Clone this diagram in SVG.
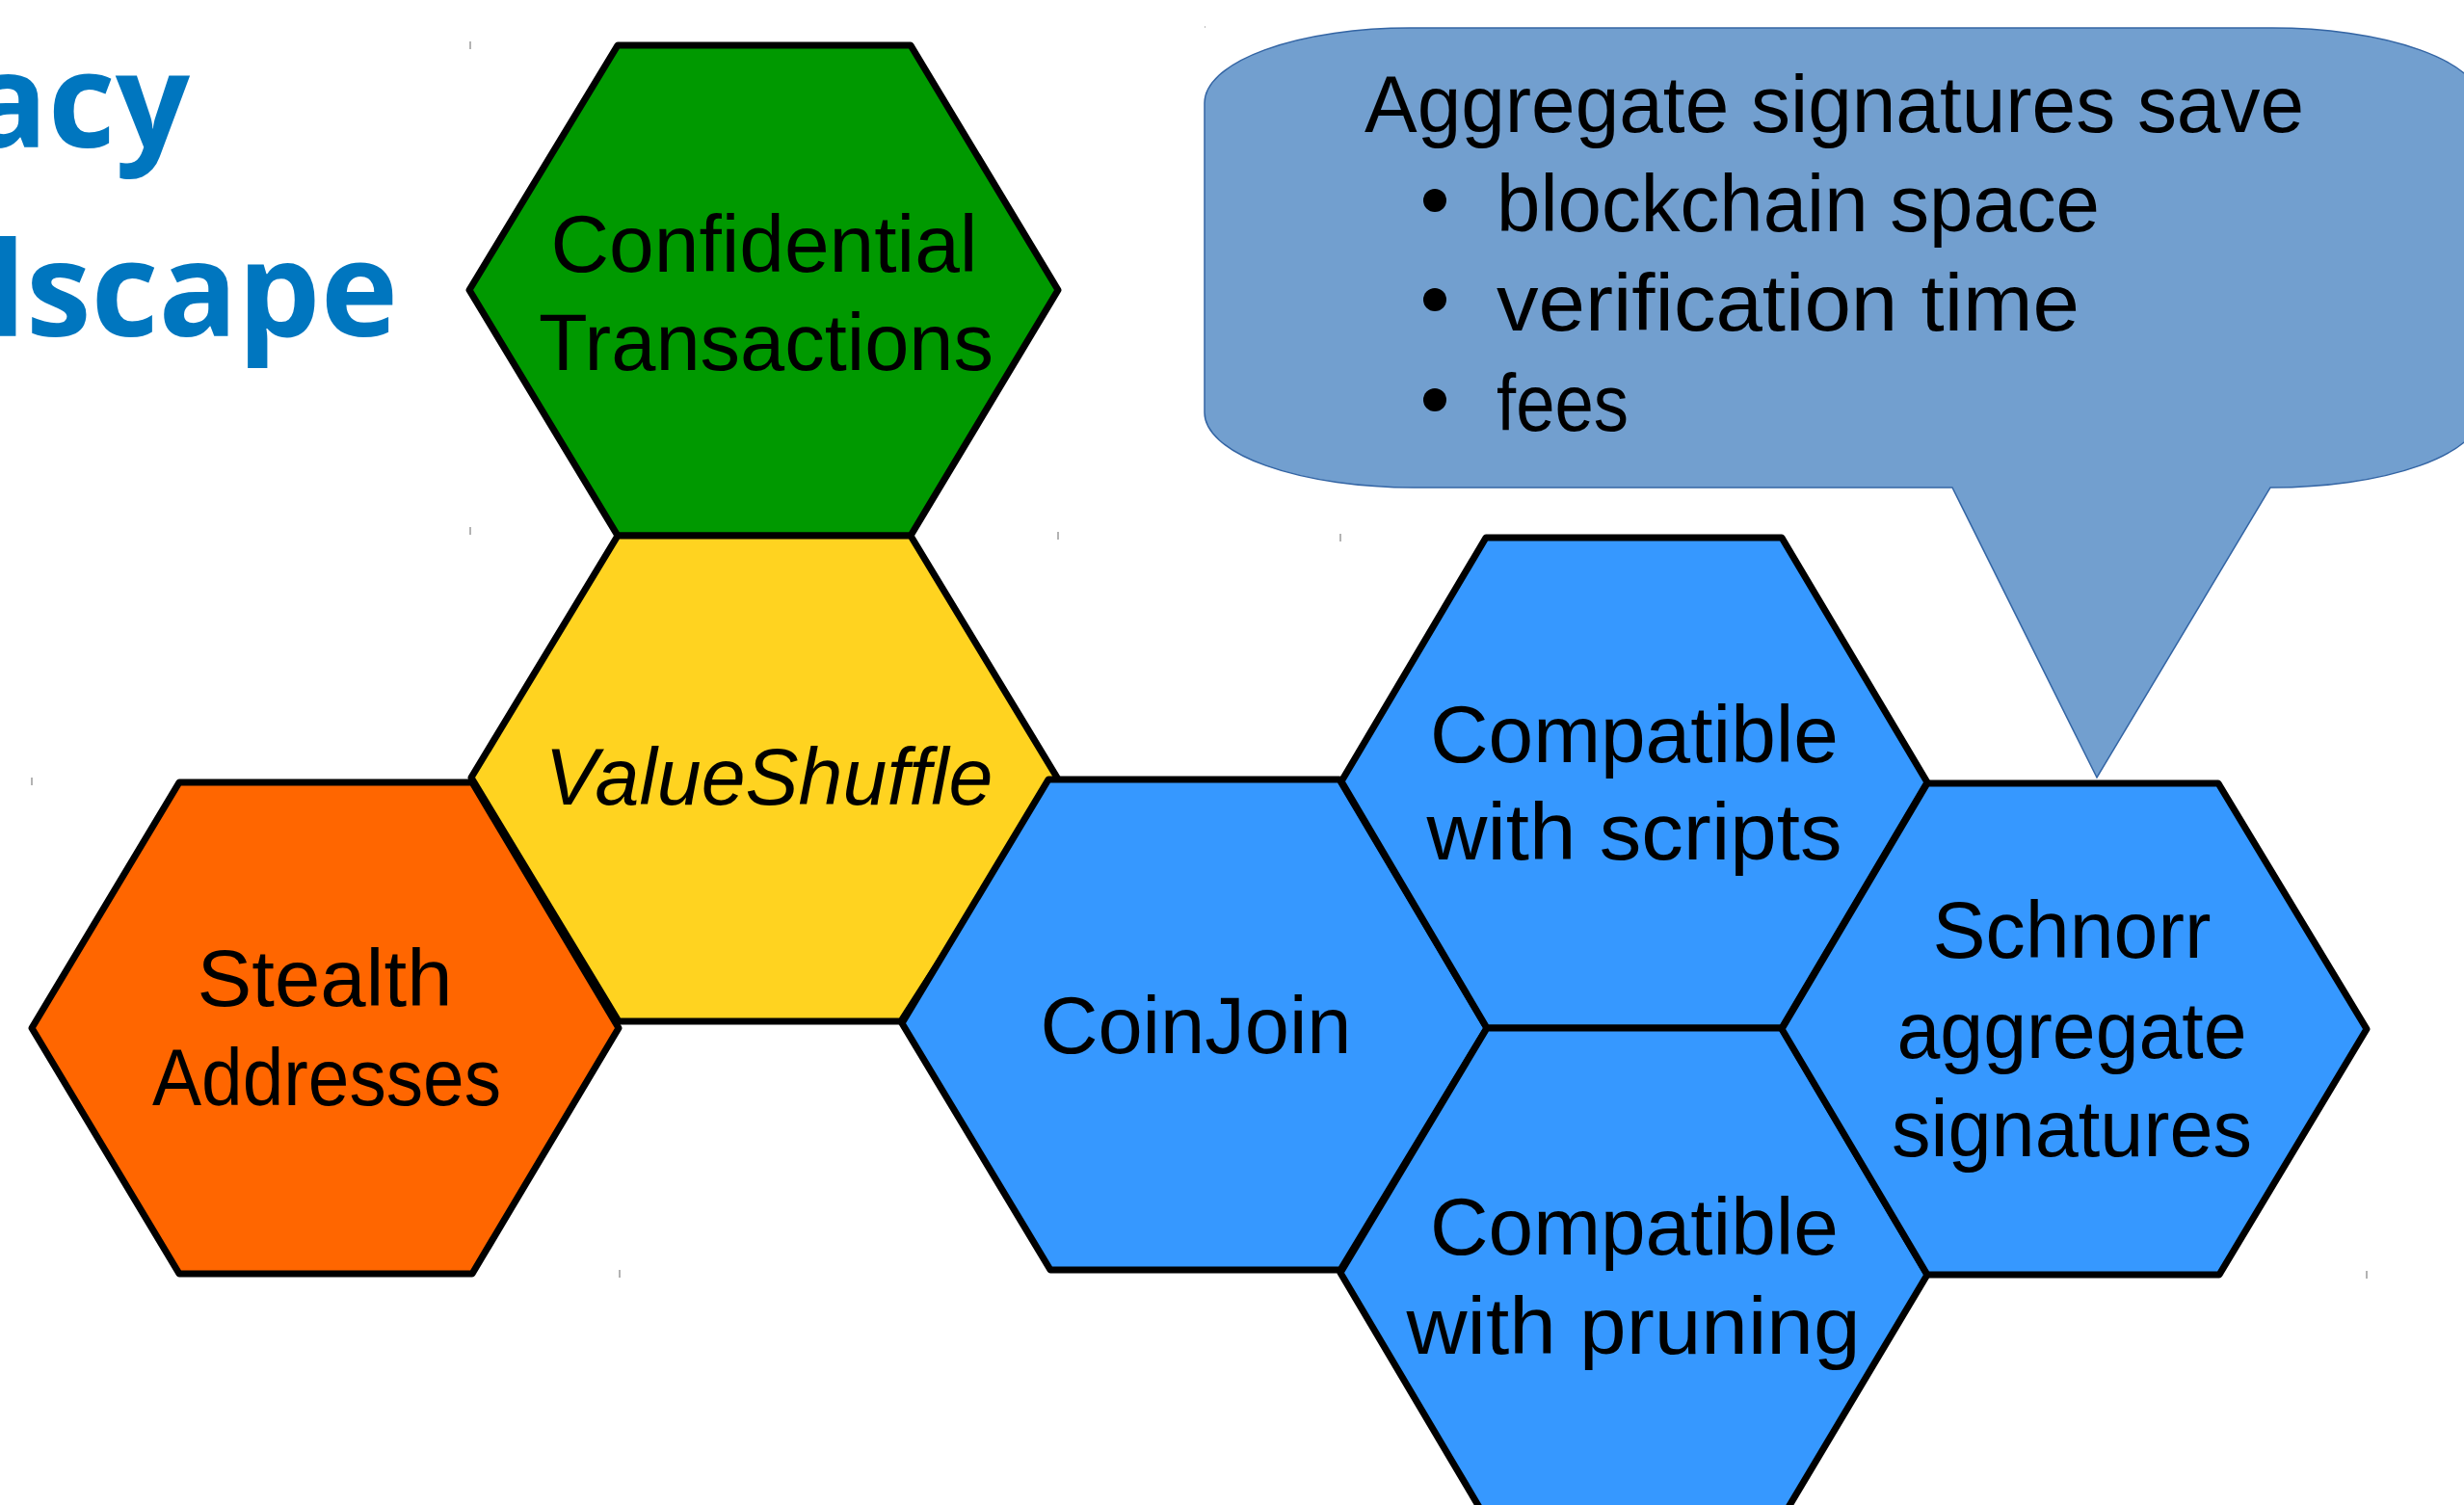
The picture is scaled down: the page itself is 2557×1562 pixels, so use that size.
<svg xmlns="http://www.w3.org/2000/svg" width="2557" height="1562" viewBox="0 0 2557 1562">
<style>
.hex{stroke:#000;stroke-width:7;stroke-linejoin:round}
.green{fill:#009900}
.yellow{fill:#ffd320}
.orange{fill:#ff6600}
.blue{fill:#3698ff}
.lbl{font-family:"Liberation Sans",Arial,sans-serif;font-size:84px;fill:#000;text-anchor:middle}
.btxt{font-family:"Liberation Sans",Arial,sans-serif;font-size:84px;fill:#000}
.title{font-family:"Open Sans","Liberation Sans",sans-serif;font-weight:700;font-size:136px;fill:#0076bf;text-anchor:end}
.mark{stroke:#808080;stroke-width:1.2}
</style>
<rect width="2557" height="1562" fill="#fff"/>
<g id="title">
<text class="title" x="197" y="153">acy</text>
<text class="title" x="413" y="349">lscape</text>
</g>
<g id="marks">
<line class="mark" x1="488" y1="43" x2="488" y2="51"/>
<line class="mark" x1="488" y1="547" x2="488" y2="555"/>
<line class="mark" x1="1098" y1="552" x2="1098" y2="560"/>
<line class="mark" x1="1391" y1="554" x2="1391" y2="562"/>
<line class="mark" x1="33" y1="807" x2="33" y2="815"/>
<line class="mark" x1="643" y1="1318" x2="643" y2="1326"/>
<line class="mark" x1="2456" y1="1319" x2="2456" y2="1327"/>
<line class="mark" x1="1250" y1="28" x2="1251" y2="28"/>
</g>
<g id="bubble">
<path d="M1463,29 H2358 A217,78 0 0 1 2575,107 V428 A217,78 0 0 1 2358,506 H2356 L2176,807 L2026,506 H1467 A217,78 0 0 1 1250,428 V107 A213,78 0 0 1 1463,29 Z" fill="#729fcf" stroke="#3465a4" stroke-width="1.5"/>
<text class="btxt" x="1416" y="137" textLength="975" lengthAdjust="spacingAndGlyphs">Aggregate signatures save</text>
<circle cx="1489" cy="208" r="12" fill="#000"/>
<text class="btxt" x="1553" y="240" textLength="626" lengthAdjust="spacingAndGlyphs">blockchain space</text>
<circle cx="1489" cy="311" r="12" fill="#000"/>
<text class="btxt" x="1553" y="343" textLength="605" lengthAdjust="spacingAndGlyphs">verification time</text>
<circle cx="1489" cy="415" r="12" fill="#000"/>
<text class="btxt" x="1553" y="447" textLength="137" lengthAdjust="spacingAndGlyphs">fees</text>
</g>
<g id="connectors"></g>
<g id="confidential-transactions">
<polygon class="hex green" points="487,301 641,47 945,47 1098,301 945,556 641,556"/>
<text class="lbl" x="793" y="282" textLength="443" lengthAdjust="spacingAndGlyphs">Confidential</text>
<text class="lbl" x="795" y="384" textLength="472" lengthAdjust="spacingAndGlyphs">Transactions</text>
</g>
<g id="valueshuffle">
<polygon class="hex yellow" points="489,807 641,556 945,556 1097,807 935,1060 642,1060"/>
<text class="lbl" x="798" y="835" font-style="italic" textLength="465" lengthAdjust="spacingAndGlyphs">ValueShuffle</text>
</g>
<g id="stealth-addresses">
<polygon class="hex orange" points="33,1067 186,812 490,812 642,1067 490,1322 186,1322"/>
<text class="lbl" x="337" y="1044" textLength="265" lengthAdjust="spacingAndGlyphs">Stealth</text>
<text class="lbl" x="339" y="1147" textLength="362" lengthAdjust="spacingAndGlyphs">Addresses</text>
</g>
<g id="coinjoin">
<polygon class="hex blue" points="936,1062 1088,809 1390,809 1543,1067 1391,1318 1090,1318"/>
<text class="lbl" x="1241" y="1093" textLength="323" lengthAdjust="spacingAndGlyphs">CoinJoin</text>
</g>
<g id="compatible-scripts">
<polygon class="hex blue" points="1392,811 1542,558 1849,558 2000,812 1849,1067 1543,1067"/>
<text class="lbl" x="1696" y="791" textLength="424" lengthAdjust="spacingAndGlyphs">Compatible</text>
<text class="lbl" x="1696" y="892" textLength="431" lengthAdjust="spacingAndGlyphs">with scripts</text>
</g>
<g id="compatible-pruning">
<polygon class="hex blue" points="1391,1321 1543,1067 1849,1067 2000,1323 1849,1576 1542,1576"/>
<text class="lbl" x="1696" y="1302" textLength="424" lengthAdjust="spacingAndGlyphs">Compatible</text>
<text class="lbl" x="1695" y="1405" textLength="471" lengthAdjust="spacingAndGlyphs">with pruning</text>
</g>
<g id="schnorr">
<polygon class="hex blue" points="1849,1068 2000,813 2302,813 2456,1068 2303,1323 2000,1323"/>
<text class="lbl" x="2150" y="994" textLength="289" lengthAdjust="spacingAndGlyphs">Schnorr</text>
<text class="lbl" x="2150" y="1098" textLength="363" lengthAdjust="spacingAndGlyphs">aggregate</text>
<text class="lbl" x="2150" y="1200" textLength="374" lengthAdjust="spacingAndGlyphs">signatures</text>
</g>
</svg>
